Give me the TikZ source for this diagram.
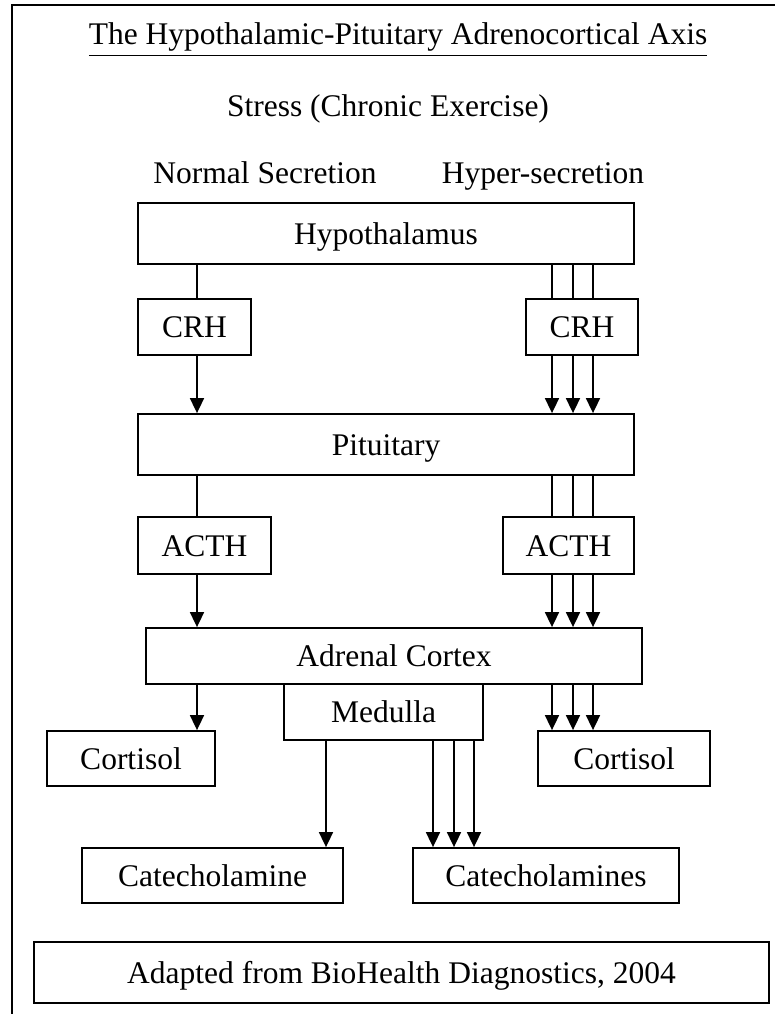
\documentclass[tikz,border=0pt]{standalone}
\usepackage{amsmath}
\usepackage{fontspec}
\setmainfont{Liberation Serif}
\usepackage{tikz}
\usepackage{xcolor}
\usetikzlibrary{arrows.meta}

\begin{document}
\begin{tikzpicture}[x=1pt,y=-1pt,
        font=\fontsize{31.5}{38}\selectfont,
        organ/.style={draw, line width=1.8pt, inner sep=0pt, align=center,
            text height=21pt, text depth=0pt},
        link/.style={line width=1.7pt},
        flow/.style={line width=1.7pt, -{Triangle[length=15pt,width=14pt]}},
        frame/.style={line width=2pt}]
                    % Fix page size
                    \useasboundingbox (0,0) rectangle (775,1014);
                    \draw[frame] (12,1014) -- (12,5) -- (775,5);

                    % Headings
                    \node[anchor=base] (title) at (398,45) {\underline{The Hypothalamic-Pituitary Adrenocortical Axis}};
                    \node[anchor=base] (stress) at (388,117) {Stress (Chronic Exercise)};
                    \node[anchor=base] (normal) at (265,183) {Normal Secretion};
                    \node[anchor=base] (hyper) at (543,183) {Hyper-secretion};

                    % Glands and hormones
                    \node[organ, minimum width=496, minimum height=61] (hyp) at (386,233.5) {Hypothalamus};
                    \node[organ, minimum width=113, minimum height=56] (crhL) at (194.5,327) {CRH};
                    \node[organ, minimum width=112, minimum height=56] (crhR) at (582,327) {CRH};
                    \node[organ, minimum width=496, minimum height=61] (pit) at (386,444.5) {Pituitary};
                    \node[organ, minimum width=133, minimum height=57] (acthL) at (204.5,545.5) {ACTH};
                    \node[organ, minimum width=131, minimum height=57] (acthR) at (568.5,545.5) {ACTH};
                    \node[organ, minimum width=496, minimum height=56] (adr) at (394,656) {Adrenal Cortex};
                    \node[organ, minimum width=199, minimum height=56] (med) at (383.5,712) {Medulla};
                    \node[organ, minimum width=168, minimum height=55] (cortL) at (131,758.5) {Cortisol};
                    \node[organ, minimum width=172, minimum height=55] (cortR) at (624,758.5) {Cortisol};
                    \node[organ, minimum width=261, minimum height=55] (catL) at (212.5,875.5) {Catecholamine};
                    \node[organ, minimum width=266, minimum height=55] (catR) at (546,875.5) {Catecholamines};
                    \node[organ, minimum width=735, minimum height=61] (src) at (401.5,972.5) {Adapted from BioHealth Diagnostics, 2004};

                    % Lanes for the connectors
                    \coordinate (laneL) at (197,0);
                    \coordinate (laneR1) at (552,0);
                    \coordinate (laneR2) at (573,0);
                    \coordinate (laneR3) at (593,0);
                    \coordinate (laneM) at (326,0);
                    \coordinate (laneM1) at (433,0);
                    \coordinate (laneM2) at (454,0);
                    \coordinate (laneM3) at (474,0);

                    % Normal secretion
                    \draw[link] (hyp.south -| laneL) -- (crhL.north -| laneL);
                    \draw[flow] (crhL.south -| laneL) -- (pit.north -| laneL);
                    \draw[link] (pit.south -| laneL) -- (acthL.north -| laneL);
                    \draw[flow] (acthL.south -| laneL) -- (adr.north -| laneL);
                    \draw[flow] (adr.south -| laneL) -- (cortL.north -| laneL);
                    \draw[flow] (med.south -| laneM) -- (catL.north -| laneM);

                    % Hyper-secretion
                    \foreach \lane in {laneR1,laneR2,laneR3} {
                        \draw[link] (hyp.south -| \lane) -- (crhR.north -| \lane);
                        \draw[flow] (crhR.south -| \lane) -- (pit.north -| \lane);
                        \draw[link] (pit.south -| \lane) -- (acthR.north -| \lane);
                        \draw[flow] (acthR.south -| \lane) -- (adr.north -| \lane);
                        \draw[flow] (adr.south -| \lane) -- (cortR.north -| \lane);
                    }
                    \foreach \lane in {laneM1,laneM2,laneM3} {
                        \draw[flow] (med.south -| \lane) -- (catR.north -| \lane);
                    }
\end{tikzpicture}
\end{document}
